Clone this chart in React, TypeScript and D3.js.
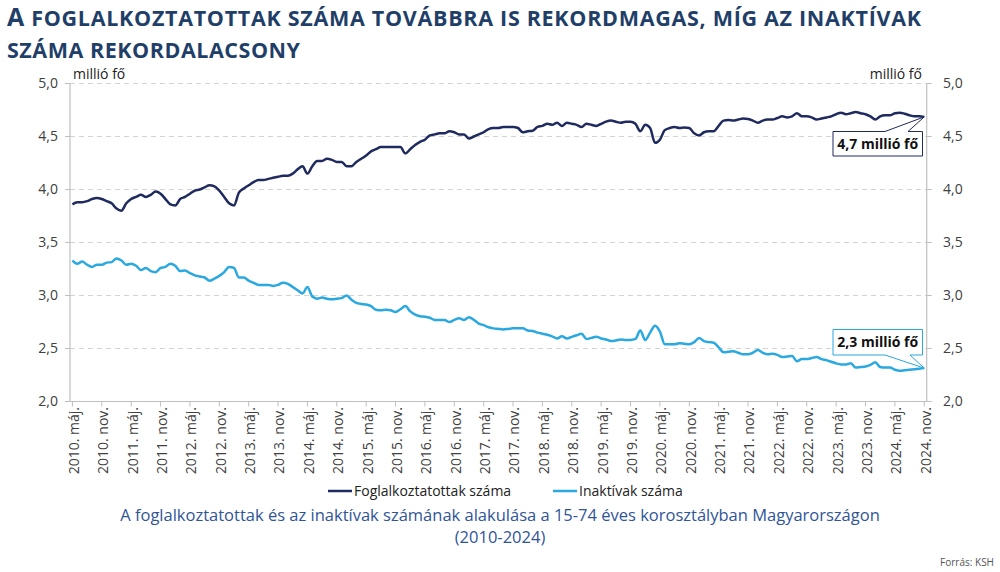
import React from "react";
import * as d3 from "d3";

// ---- Data (monthly, 2010 máj. – 2024 nov.) ----
const employed: number[] = [
  3.86, 3.88, 3.88, 3.89, 3.91, 3.92, 3.91, 3.89, 3.87, 3.82,
  3.80, 3.87, 3.91, 3.93, 3.95, 3.93, 3.95, 3.98, 3.96, 3.91,
  3.86, 3.85, 3.91, 3.93, 3.96, 3.99, 4.00, 4.02, 4.04, 4.03,
  3.99, 3.93, 3.87, 3.85, 3.97, 4.01, 4.04, 4.07, 4.09, 4.09,
  4.10, 4.11, 4.12, 4.13, 4.13, 4.15, 4.19, 4.22, 4.15, 4.22,
  4.27, 4.27, 4.29, 4.28, 4.26, 4.26, 4.22, 4.22, 4.26, 4.29,
  4.32, 4.36, 4.38, 4.40, 4.40, 4.40, 4.40, 4.40, 4.34, 4.38,
  4.42, 4.45, 4.47, 4.51, 4.52, 4.53, 4.53, 4.55, 4.54, 4.52,
  4.52, 4.48, 4.50, 4.52, 4.54, 4.57, 4.58, 4.58, 4.59, 4.59,
  4.59, 4.58, 4.54, 4.55, 4.555, 4.59, 4.60, 4.62, 4.61, 4.63,
  4.60, 4.63, 4.62, 4.61, 4.59, 4.62, 4.61, 4.60, 4.62, 4.64,
  4.65, 4.64, 4.63, 4.64, 4.64, 4.62, 4.55, 4.61, 4.58, 4.44,
  4.47, 4.56, 4.58, 4.59, 4.58, 4.585, 4.58, 4.53, 4.51, 4.54,
  4.55, 4.55, 4.60, 4.65, 4.655, 4.65, 4.66, 4.67, 4.665, 4.65,
  4.63, 4.65, 4.66, 4.66, 4.675, 4.69, 4.68, 4.69, 4.72, 4.69,
  4.69, 4.68, 4.66, 4.67, 4.68, 4.69, 4.71, 4.725, 4.71, 4.72,
  4.73, 4.72, 4.71, 4.69, 4.66, 4.69, 4.70, 4.70, 4.72, 4.725,
  4.715, 4.70, 4.69, 4.69, 4.685,
];

const inactive: number[] = [
  3.33, 3.30, 3.32, 3.29, 3.27, 3.29, 3.29, 3.31, 3.315, 3.35,
  3.33, 3.29, 3.30, 3.28, 3.24, 3.26, 3.23, 3.22, 3.26, 3.27,
  3.30, 3.28, 3.23, 3.235, 3.21, 3.19, 3.18, 3.17, 3.14, 3.16,
  3.185, 3.22, 3.27, 3.26, 3.17, 3.17, 3.14, 3.12, 3.10, 3.10,
  3.10, 3.09, 3.10, 3.12, 3.11, 3.08, 3.05, 3.02, 3.08, 2.99,
  2.97, 2.98, 2.97, 2.965, 2.97, 2.975, 3.00, 2.96, 2.93, 2.92,
  2.915, 2.90, 2.865, 2.86, 2.865, 2.86, 2.845, 2.87, 2.90, 2.85,
  2.82, 2.805, 2.80, 2.79, 2.77, 2.77, 2.77, 2.75, 2.77, 2.785,
  2.77, 2.795, 2.77, 2.735, 2.72, 2.70, 2.69, 2.685, 2.68, 2.685,
  2.69, 2.69, 2.69, 2.67, 2.665, 2.65, 2.64, 2.63, 2.615, 2.595,
  2.615, 2.595, 2.61, 2.625, 2.64, 2.59, 2.60, 2.61, 2.595, 2.585,
  2.57, 2.575, 2.585, 2.58, 2.58, 2.59, 2.67, 2.58, 2.65, 2.715,
  2.66, 2.54, 2.54, 2.54, 2.55, 2.545, 2.54, 2.56, 2.60, 2.57,
  2.56, 2.555, 2.51, 2.465, 2.47, 2.475, 2.46, 2.445, 2.445, 2.46,
  2.485, 2.46, 2.445, 2.45, 2.44, 2.42, 2.425, 2.43, 2.38, 2.40,
  2.40, 2.41, 2.42, 2.40, 2.39, 2.375, 2.36, 2.35, 2.35, 2.36,
  2.32, 2.325, 2.33, 2.345, 2.37, 2.325, 2.32, 2.32, 2.30, 2.29,
  2.295, 2.30, 2.305, 2.31, 2.315,
];

const xTickLabels: string[] = [
  "2010. máj.", "2010. nov.", "2011. máj.", "2011. nov.", "2012. máj.", "2012. nov.",
  "2013. máj.", "2013. nov.", "2014. máj.", "2014. nov.", "2015. máj.", "2015. nov.",
  "2016. máj.", "2016. nov.", "2017. máj.", "2017. nov.", "2018. máj.", "2018. nov.",
  "2019. máj.", "2019. nov.", "2020. máj.", "2020. nov.", "2021. máj.", "2021. nov.",
  "2022. máj.", "2022. nov.", "2023. máj.", "2023. nov.", "2024. máj.", "2024. nov.",
];
const yTicks: number[] = [2.0, 2.5, 3.0, 3.5, 4.0, 4.5, 5.0];
const seriesNames: string[] = ["Foglalkoztatottak száma", "Inaktívak száma"];
const annotations: string[] = ["4,7 millió fő", "2,3 millió fő"];

const NAVY = "#1F2A5E";
const LIGHT = "#2AA8E0";
const TITLE = "#1F3F68";
const FONT = "'Open Sans', 'DejaVu Sans', sans-serif";

export default function App() {
  const W = 1000;
  const H = 572;
  const left = 70;
  const right = 926.7;
  const top = 83.5;
  const bottom = 401.5;
  const n = employed.length;

  const x = d3.scaleLinear().domain([-0.5, n - 0.5]).range([left, right]);
  const y = d3.scaleLinear().domain([2, 5]).range([bottom, top]);

  const line = d3
    .line<number>()
    .x((_, i) => x(i))
    .y((d) => y(d))
    .curve(d3.curveMonotoneX);

  const fmt = (v: number) => v.toFixed(1).replace(".", ",");
  const tickIdx = xTickLabels.map((_, k) => k * 6);

  const lastE = { x: x(n - 1), y: y(employed[n - 1]) };
  const lastI = { x: x(n - 1), y: y(inactive[n - 1]) };

  const box1 = { x0: 833, y0: 131.5, x1: 922.5, y1: 156 };
  const box2 = { x0: 833, y0: 329.5, x1: 922.5, y1: 355 };

  return (
    <svg
      width={W}
      height={H}
      viewBox={`0 0 ${W} ${H}`}
      style={{ position: "absolute", left: 0, top: 0, background: "#fff" }}
      fontFamily={FONT}
    >
      {/* Title */}
      <text x={7} y={26} fill={TITLE} fontWeight={700} textLength={914} lengthAdjust="spacing">
        <tspan fontSize={25}>A</tspan>
        <tspan fontSize={21.5}> FOGLALKOZTATOTTAK SZÁMA TOVÁBBRA IS REKORDMAGAS, MÍG AZ INAKTÍVAK</tspan>
      </text>
      <text x={7} y={58} fill={TITLE} fontWeight={700} fontSize={21.5} textLength={293} lengthAdjust="spacing">
        SZÁMA REKORDALACSONY
      </text>

      {/* Unit labels */}
      <text x={73} y={79} fontSize={14} fill="#222">millió fő</text>
      <text x={922} y={79} fontSize={14} fill="#222" textAnchor="end">millió fő</text>

      {/* Gridlines */}
      {yTicks.filter((t) => t > 2).map((t) => (
        <line key={"g" + t} x1={left} x2={right} y1={y(t)} y2={y(t)} stroke="#D3D3D3" strokeWidth={1} strokeDasharray="5,4" />
      ))}

      {/* Axes */}
      <line x1={left} x2={left} y1={top} y2={bottom} stroke="#BFBFBF" strokeWidth={1.2} />
      <line x1={right} x2={right} y1={top} y2={bottom} stroke="#BFBFBF" strokeWidth={1.2} />
      <line x1={left} x2={right} y1={bottom} y2={bottom} stroke="#BFBFBF" strokeWidth={1.2} />
      {yTicks.map((t) => (
        <g key={"yt" + t}>
          <line x1={left - 5} x2={left} y1={y(t)} y2={y(t)} stroke="#BFBFBF" />
          <line x1={right} x2={right + 5} y1={y(t)} y2={y(t)} stroke="#BFBFBF" />
          <text x={58} y={y(t)} dy="0.35em" textAnchor="end" fontSize={14} fill="#404040">{fmt(t)}</text>
          <text x={943} y={y(t)} dy="0.35em" textAnchor="start" fontSize={14} fill="#404040">{fmt(t)}</text>
        </g>
      ))}

      {/* X ticks and labels */}
      {tickIdx.map((i, k) => (
        <g key={"xt" + k}>
          <line x1={x(i)} x2={x(i)} y1={bottom} y2={bottom + 5} stroke="#BFBFBF" />
          <text
            transform={`translate(${x(i) + 1.5},${407}) rotate(-90)`}
            textAnchor="end"
            dy="0.35em"
            fontSize={14}
            fill="#404040"
          >
            {xTickLabels[k]}
          </text>
        </g>
      ))}

      {/* Lines */}
      <path d={line(inactive) || ""} fill="none" stroke={LIGHT} strokeWidth={2.5} strokeLinejoin="round" />
      <path d={line(employed) || ""} fill="none" stroke={NAVY} strokeWidth={2.5} strokeLinejoin="round" />

      {/* Annotation 1 */}
      <path
        d={`M${box1.x0},${box1.y0} L885,${box1.y0} L${lastE.x},${lastE.y} L908,${box1.y0} L${box1.x1},${box1.y0} L${box1.x1},${box1.y1} L${box1.x0},${box1.y1} Z`}
        fill="#fff"
        stroke={NAVY}
        strokeWidth={1}
      />
      <text x={(box1.x0 + box1.x1) / 2} y={(box1.y0 + box1.y1) / 2} dy="0.36em" textAnchor="middle" fontSize={14} fontWeight={700} fill="#111">
        {annotations[0]}
      </text>

      {/* Annotation 2 */}
      <path
        d={`M${box2.x0},${box2.y0} L${box2.x1},${box2.y0} L${box2.x1},${box2.y1} L910,${box2.y1} L${lastI.x},${lastI.y} L885,${box2.y1} L${box2.x0},${box2.y1} Z`}
        fill="#fff"
        stroke={LIGHT}
        strokeWidth={1}
      />
      <text x={(box2.x0 + box2.x1) / 2} y={(box2.y0 + box2.y1) / 2} dy="0.36em" textAnchor="middle" fontSize={14} fontWeight={700} fill="#111">
        {annotations[1]}
      </text>

      {/* Legend */}
      <line x1={328} x2={352} y1={491} y2={491} stroke={NAVY} strokeWidth={2.5} />
      <text x={354} y={491} dy="0.35em" fontSize={14} fill="#222">{seriesNames[0]}</text>
      <line x1={553} x2={577} y1={491} y2={491} stroke={LIGHT} strokeWidth={2.5} />
      <text x={579} y={491} dy="0.35em" fontSize={14} fill="#222">{seriesNames[1]}</text>

      {/* Caption */}
      <text x={500} y={521} textAnchor="middle" fontSize={16.5} fill="#2F5597">
        A foglalkoztatottak és az inaktívak számának alakulása a 15-74 éves korosztályban Magyarországon
      </text>
      <text x={500} y={543} textAnchor="middle" fontSize={16.5} fill="#2F5597">(2010-2024)</text>

      {/* Source */}
      <text x={994} y={566} textAnchor="end" fontSize={10} fill="#555">Forrás: KSH</text>
    </svg>
  );
}
